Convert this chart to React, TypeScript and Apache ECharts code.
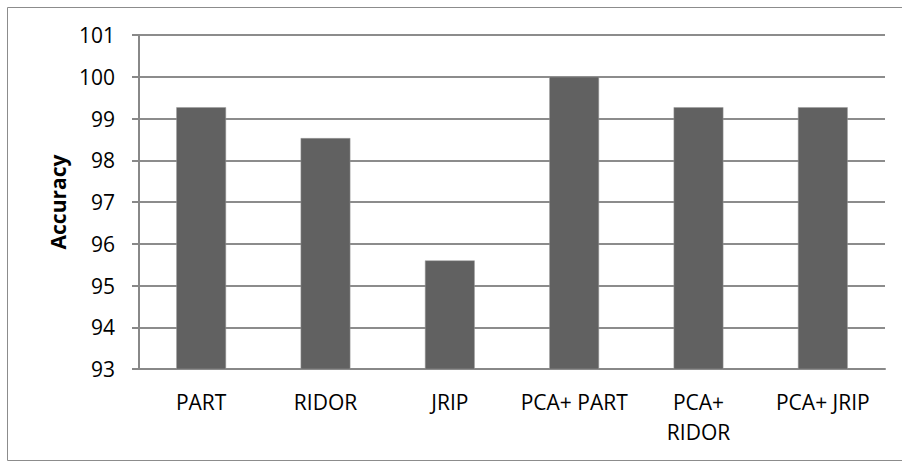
import React, { useEffect, useRef } from "react";
import * as echarts from "echarts";

const categories = ["PART", "RIDOR", "JRIP", "PCA+ PART", "PCA+\nRIDOR", "PCA+ JRIP"];
const accuracy = [99.27, 98.53, 95.6, 100, 99.27, 99.27];
const yMin = 93;
const yMax = 101;
const yStep = 1;

export default function App() {
  const ref = useRef<HTMLDivElement>(null);
  useEffect(() => {
    if (!ref.current) return;
    const chart = echarts.init(ref.current, null, { renderer: "svg" });
    const font = "'Open Sans', sans-serif";
    chart.setOption({
      animation: false,
      backgroundColor: "#ffffff",
      graphic: [
        {
          type: "rect",
          shape: { x: 7.5, y: 7.5, width: 900, height: 453 },
          style: { fill: "none", stroke: "#8c8c8c", lineWidth: 1 },
          silent: true,
        },
      ],
      grid: { left: 139, top: 35, right: 17, bottom: 93, containLabel: false },
      xAxis: {
        type: "category",
        data: categories,
        axisLine: { lineStyle: { color: "#888888", width: 2 } },
        axisTick: { show: false },
        axisLabel: {
          color: "#000000",
          fontFamily: font,
          fontSize: 21,
          lineHeight: 30,
          margin: 18,
          interval: 0,
        },
      },
      yAxis: {
        type: "value",
        min: yMin,
        max: yMax,
        interval: yStep,
        name: "Accuracy",
        nameLocation: "middle",
        nameGap: 67,
        nameTextStyle: { color: "#000000", fontFamily: font, fontSize: 21, fontWeight: "bold" },
        axisLine: { show: true, lineStyle: { color: "#888888", width: 2 } },
        axisTick: { show: true, length: 7, lineStyle: { color: "#888888", width: 2 } },
        axisLabel: { color: "#000000", fontFamily: font, fontSize: 21, margin: 24 },
        splitLine: { show: true, lineStyle: { color: "#8c8c8c", width: 2 } },
      },
      series: [
        {
          type: "bar",
          data: accuracy,
          barCategoryGap: "60%",
          itemStyle: { color: "#616161", borderColor: "#9a9a9a", borderWidth: 0.5 },
        },
      ],
    });
    return () => chart.dispose();
  }, []);
  return (
    <div
      ref={ref}
      style={{ position: "absolute", left: 0, top: 0, width: 902, height: 462 }}
    />
  );
}
